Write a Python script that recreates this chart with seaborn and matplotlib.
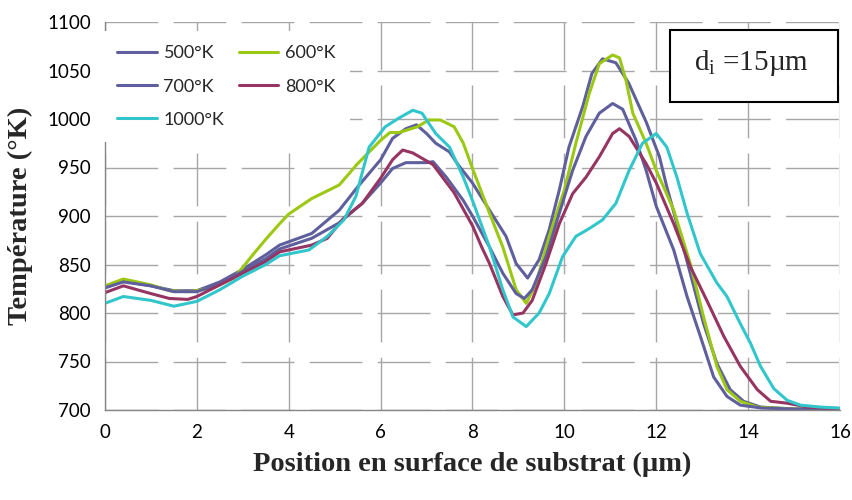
import numpy as np
import pandas as pd
import matplotlib
matplotlib.use("Agg")
import matplotlib.pyplot as plt
import seaborn as sns
from matplotlib.patches import Rectangle

# ==================== données ====================
series_names = ["500°K", "600°K", "700°K", "800°K", "1000°K"]

pos_500 = [0, 0.4, 1.0, 1.5, 2.0, 2.5, 3.0, 3.5, 3.8, 4.5, 5.1, 5.5, 6.0, 6.26, 6.55, 6.78,
           7.0, 7.2, 7.5, 7.7, 8.0, 8.37, 8.73, 8.95, 9.2, 9.45, 9.67, 9.89, 10.1, 10.4,
           10.6, 10.83, 11.12, 11.4, 11.78, 12.07, 12.23, 12.45, 12.74, 13.03, 13.32,
           13.61, 13.9, 14.27, 15.0, 16.0]
temp_500 = [826, 833, 828, 823, 823, 832, 845, 860, 870, 882, 906, 930, 958, 980, 990, 994,
            985, 975, 966, 952, 934, 906, 879, 851, 836, 855, 886, 927, 971, 1013,
            1047, 1062, 1058, 1037, 997, 961, 930, 892, 841, 789, 748,
            721, 709, 703, 701, 701]

pos_600 = [0, 0.4, 1.0, 1.4, 1.8, 2.0, 2.4, 2.8, 3.0, 3.2, 3.5, 3.8, 4.0, 4.5, 5.1, 5.5,
           6.0, 6.2, 6.4, 6.8, 7.05, 7.3, 7.6, 7.8, 8.0, 8.37, 8.66, 8.95, 9.17, 9.38,
           9.67, 10.0, 10.25, 10.54, 10.76, 11.05, 11.2, 11.34, 11.49, 11.78, 12.0, 12.16,
           12.38, 12.74, 13.03, 13.32, 13.54, 13.83, 14.2, 14.6, 15.0, 16.0]
temp_600 = [828, 835, 829, 823, 822, 823, 827, 836, 847, 859, 876, 892, 902, 918, 932, 954,
            978, 986, 986, 992, 999, 999, 992, 975, 949, 903, 868, 824, 810, 830,
            879, 927, 975, 1026, 1057, 1066, 1063, 1040, 1006, 975, 947, 930,
            906, 851, 796, 745, 721, 709, 703, 702, 701, 701]

pos_700 = [0, 0.4, 1.0, 1.5, 2.0, 2.5, 3.0, 3.5, 3.8, 4.5, 5.1, 5.6, 6.0, 6.26, 6.55, 7.0,
           7.14, 7.43, 7.8, 8.0, 8.37, 8.66, 8.95, 9.13, 9.3, 9.6, 9.89, 10.18, 10.47,
           10.76, 11.05, 11.27, 11.56, 11.78, 12.0, 12.38, 12.67, 12.96, 13.25, 13.54,
           13.83, 14.3, 15.0, 16.0]
temp_700 = [826, 832, 828, 822, 822, 830, 843, 856, 866, 877, 893, 913, 934, 949, 955, 955,
            956, 940, 916, 900, 868, 841, 820, 815, 824, 858, 903, 947, 982,
            1006, 1016, 1010, 978, 947, 910, 865, 817, 776, 734, 714,
            705, 702, 701, 701]

pos_800 = [0, 0.4, 1.0, 1.4, 1.8, 2.0, 2.5, 3.0, 3.5, 3.8, 4.5, 4.84, 5.2, 5.6, 6.0, 6.26,
           6.48, 6.7, 7.14, 7.6, 8.0, 8.2, 8.37, 8.66, 8.88, 9.1, 9.3, 9.6, 9.89, 10.18,
           10.47, 10.76, 11.05, 11.2, 11.41, 11.78, 12.0, 12.38, 12.74, 13.1, 13.47,
           13.83, 14.2, 14.49, 14.85, 15.3, 16.0]
temp_800 = [821, 828, 820, 815, 814, 817, 829, 841, 853, 863, 870, 877, 898, 913, 939, 958,
            968, 965, 953, 924, 890, 868, 851, 817, 798, 800, 813, 851, 892, 923,
            940, 961, 985, 990, 982, 954, 934, 892, 848, 813, 776,
            745, 721, 709, 707, 703, 701]

pos_1000 = [0, 0.4, 1.0, 1.5, 2.0, 2.5, 3.0, 3.5, 3.8, 4.44, 4.84, 5.2, 5.46, 5.75, 6.1,
            6.4, 6.7, 6.9, 7.2, 7.5, 7.8, 8.0, 8.37, 8.66, 8.88, 9.17, 9.45, 9.67, 9.96,
            10.25, 10.54, 10.83, 11.12, 11.41, 11.7, 12.0, 12.23, 12.45, 12.67, 12.96,
            13.32, 13.54, 13.83, 14.05, 14.27, 14.56, 14.85, 15.14, 15.58, 16.0]
temp_1000 = [810, 817, 813, 807, 812, 824, 838, 850, 859, 865, 879, 896, 920, 971, 992,
             1001, 1009, 1006, 985, 971, 940, 916, 868, 824, 796, 786, 800, 820, 858,
             879, 887, 896, 913, 947, 975, 985, 971, 940, 903, 861,
             831, 817, 789, 769, 745, 722, 710, 705, 703, 702]

x_ticks = [0, 2, 4, 6, 8, 10, 12, 14, 16]
y_ticks = [700, 750, 800, 850, 900, 950, 1000, 1050, 1100]

COLORS = {"500°K": "#5E5F9C", "600°K": "#9BC812", "700°K": "#5E5F9C",
          "800°K": "#963462", "1000°K": "#31C6CB"}

# ==================== style ====================
sns.set_theme(style="white")
plt.rcParams['font.family'] = ['Lato', 'DejaVu Sans']
plt.rcParams['mathtext.fontset'] = 'custom'
plt.rcParams['mathtext.rm'] = 'Liberation Serif'
plt.rcParams['mathtext.it'] = 'Liberation Serif:italic'

frames = []
for name, px, ty in zip(series_names,
                        [pos_500, pos_600, pos_700, pos_800, pos_1000],
                        [temp_500, temp_600, temp_700, temp_800, temp_1000]):
    frames.append(pd.DataFrame({"pos": px, "temp": ty, "serie": name}))
df = pd.concat(frames, ignore_index=True)

fig = plt.figure(figsize=(8.53, 5), dpi=100)
ax = fig.add_axes([105 / 853, 1 - 410 / 500, 735 / 853, 388 / 500])

sns.lineplot(data=df, x="pos", y="temp", hue="serie", hue_order=series_names,
             palette=COLORS, estimator=None, sort=False, linewidth=2.2, ax=ax)

ax.set_xlim(0, 16)
ax.set_ylim(700, 1100)
ax.set_xticks(x_ticks)
ax.set_yticks(y_ticks)
ax.tick_params(axis="both", direction="out", length=5, width=1, color="#868686",
               labelsize=13.5, labelcolor="black", pad=5)

ax.set_axisbelow(True)
ax.grid(True, color="#a6a6a6", linewidth=1.0, linestyle=(0, (38, 11)))
for side in ["top", "right"]:
    ax.spines[side].set_visible(False)
for side in ["left", "bottom"]:
    ax.spines[side].set_color("#868686")
    ax.spines[side].set_linewidth(1.0)

ax.set_xlabel("Position en surface de substrat (µm)", family="Liberation Serif",
              fontweight="bold", fontsize=20.5, labelpad=8)
ax.set_ylabel("Température (°K)", family="Liberation Serif",
              fontweight="bold", fontsize=20.5, labelpad=10)

# légende : remplissage ligne par ligne comme l'original
handles, labels = ax.get_legend_handles_labels()
order = [0, 2, 4, 1, 3]
leg = ax.legend([handles[i] for i in order], [labels[i] for i in order],
                ncol=2, loc="upper left", bbox_to_anchor=(-0.015, 1.0),
                frameon=True, facecolor="white", edgecolor="none", framealpha=1,
                fancybox=False, fontsize=13, handlelength=2.2, handletextpad=0.35,
                columnspacing=0.8, labelspacing=0.95, borderpad=0.8)

# encadré d_i
ax.add_patch(Rectangle((0.769, 0.794), 0.228, 0.185, transform=ax.transAxes,
                       facecolor="white", edgecolor="black", linewidth=1.5, zorder=5))
ax.text(0.880, 0.895, r"d$_\mathrm{i}$ =15µm", transform=ax.transAxes,
        ha="center", va="center", family="Liberation Serif", fontsize=21, zorder=6)

plt.savefig("out.png", dpi=100)
plt.close()
